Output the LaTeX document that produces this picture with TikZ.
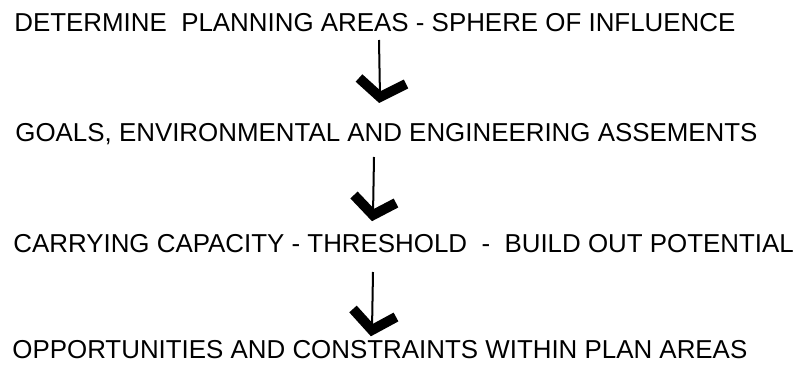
\documentclass[tikz,border=0pt]{standalone}
\usepackage{fontspec}
\setmainfont{Liberation Sans}
\usepackage{tikz}

\begin{document}
\begin{tikzpicture}[x=0.5pt, y=-0.5pt,
    stage/.style={anchor=base west, inner sep=0pt, font=\fontsize{12.95}{15}\selectfont},
    shaft/.style={line width=1pt},
    vhead/.style={line width=5pt, line join=miter, line cap=butt}]
    \useasboundingbox (0,0) rectangle (798,369);
    % the four stages, top to bottom
    \node[stage] (areas) at (14,32) {DETERMINE\ \ PLANNING AREAS - SPHERE OF INFLUENCE};
    \node[stage] (goals) at (15,141) {GOALS, ENVIRONMENTAL AND ENGINEERING ASSEMENTS};
    \node[stage] (capacity) at (13,252) {CARRYING CAPACITY - THRESHOLD\ \ -\ \ BUILD OUT POTENTIAL};
    \node[stage] (plan) at (12,358) {OPPORTUNITIES AND CONSTRAINTS WITHIN PLAN AREAS};
    % key points of the arrows
    \coordinate (top first arrow) at (379,40);
    \coordinate (tip first arrow) at (380,97);
    \coordinate (left first arrow) at (359,78);
    \coordinate (right first arrow) at (406,84);
    \coordinate (top second arrow) at (374,157);
    \coordinate (tip second arrow) at (373,215);
    \coordinate (left second arrow) at (354,195);
    \coordinate (right second arrow) at (396,203);
    \coordinate (top third arrow) at (373,272);
    \coordinate (tip third arrow) at (372,330);
    \coordinate (left third arrow) at (353,309);
    \coordinate (right third arrow) at (396,317);
    % arrows
    \draw[shaft] (top first arrow) -- (tip first arrow);
    \draw[vhead] (left first arrow) -- (tip first arrow) -- (right first arrow);
    \draw[shaft] (top second arrow) -- (tip second arrow);
    \draw[vhead] (left second arrow) -- (tip second arrow) -- (right second arrow);
    \draw[shaft] (top third arrow) -- (tip third arrow);
    \draw[vhead] (left third arrow) -- (tip third arrow) -- (right third arrow);
\end{tikzpicture}
\end{document}
